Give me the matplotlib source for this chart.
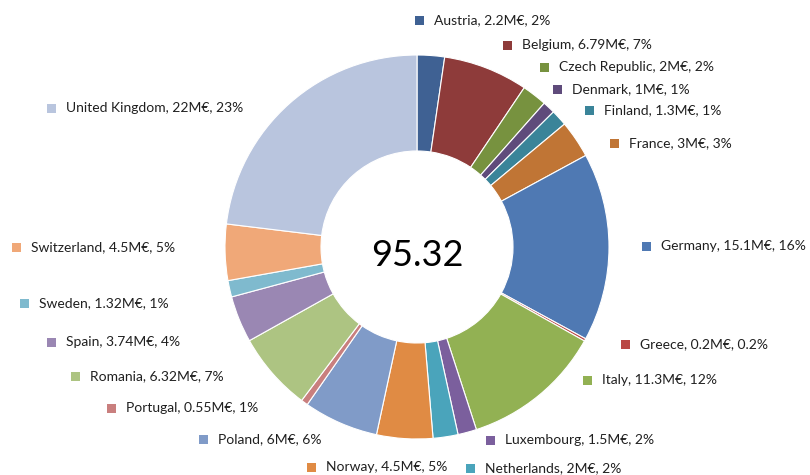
import matplotlib.pyplot as plt

countries = ["Austria", "Belgium", "Czech Republic", "Denmark", "Finland", "France",
             "Germany", "Greece", "Italy", "Luxembourg", "Netherlands", "Norway",
             "Poland", "Portugal", "Romania", "Spain", "Sweden", "Switzerland",
             "United Kingdom"]
values = [2.2, 6.79, 2, 1, 1.3, 3, 15.1, 0.2, 11.3, 1.5, 2, 4.5,
          6, 0.55, 6.32, 3.74, 1.32, 4.5, 22]
value_labels = ["2.2", "6.79", "2", "1", "1.3", "3", "15.1", "0.2", "11.3", "1.5", "2", "4.5",
                "6", "0.55", "6.32", "3.74", "1.32", "4.5", "22"]
percent_labels = ["2%", "7%", "2%", "1%", "1%", "3%", "16%", "0.2%", "12%", "2%", "2%", "5%",
                  "6%", "1%", "7%", "4%", "1%", "5%", "23%"]
total_label = "95.32"

colors = ["#3F6193", "#8E3B3A", "#77923F", "#5F4B7B", "#3A8499", "#C07535",
          "#4F79B3", "#B94845", "#92B153", "#7B5F9D", "#4AA4BB", "#E08B44",
          "#809BC8", "#C97F7E", "#ADC482", "#9A87B3", "#7FBACE", "#F0A878",
          "#B9C5DE"]

# label layout in pixel coords from top-left: (marker left x, centre y)
label_pos = [(415, 20), (503, 45), (540, 67), (553, 89), (585, 110), (610, 143),
             (642, 246), (621, 344), (583, 380), (486, 440), (466, 468), (307, 467),
             (199, 439), (107, 408), (71, 376), (47, 342), (20, 303), (12, 247),
             (47, 108)]

H = 475
plt.rcParams['font.family'] = ['Lato', 'DejaVu Sans']

fig = plt.figure(figsize=(8.1, 4.75), dpi=100)
ax = fig.add_axes([0, 0, 1, 1])

ax.pie(values, colors=colors, startangle=90, counterclock=False,
       center=(417, H - 247), radius=192, frame=True,
       wedgeprops=dict(width=96, edgecolor='white', linewidth=0.8))
ax.set_xlim(0, 810)
ax.set_ylim(0, H)
ax.set_aspect('equal')
ax.axis('off')

for i, name in enumerate(countries):
    x, y = label_pos[i]
    ax.add_patch(plt.Rectangle((x, H - y - 4.5), 9, 9, color=colors[i], lw=0))
    ax.text(x + 19, H - y, name + ", " + value_labels[i] + "M€, " + percent_labels[i],
            fontsize=10, color='#202020', va='center', ha='left')

ax.text(417, H - 255, total_label, fontsize=26, ha='center', va='center', color='black')

plt.savefig("out.png")
